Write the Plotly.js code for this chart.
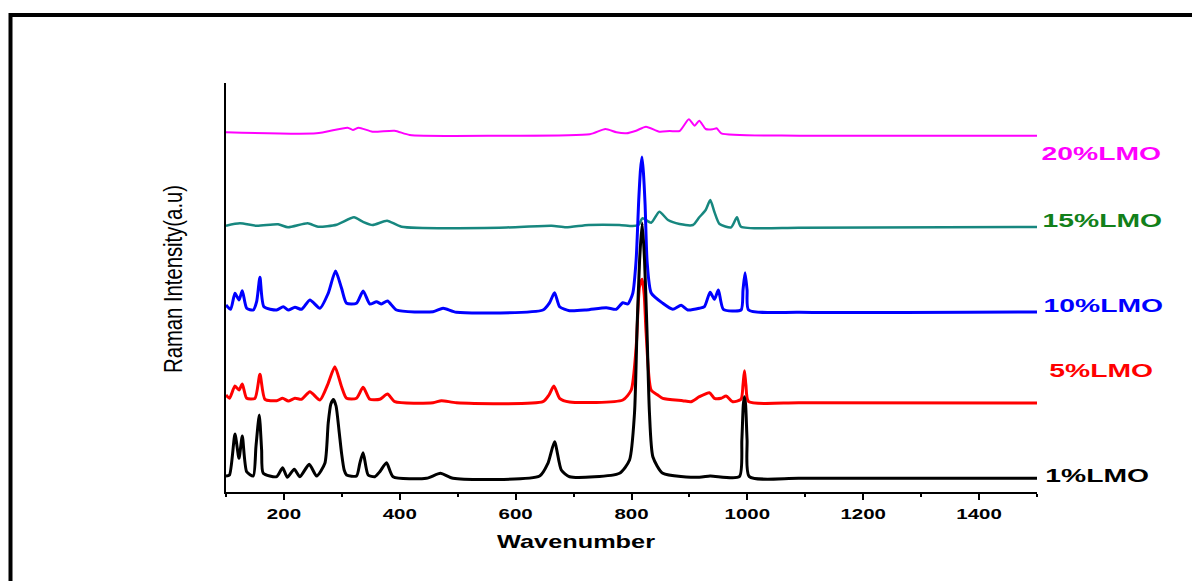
<!DOCTYPE html>
<html><head><meta charset="utf-8">
<script src="https://cdn.plot.ly/plotly-3.0.1.min.js"></script>
<style>html,body{margin:0;padding:0;background:#fff}#chart{width:1192px;height:581px}</style>
</head><body><div id="chart"></div>
<script>
// ---- data (x: wavenumber, y: stacked Raman intensity, a.u.) ----
const seriesNames = ['1%LMO', '5%LMO', '10%LMO', '15%LMO', '20%LMO'];

const wn_1 = [100,106,115.5,122.4,128.1,135.7,147.1,151.7,157.4,161.5,164.3,187.4,197.8,205.7,217.8,227.6,243.6,256.4,270.7,276.4,281,285.5,290,295,299.5,304,308.1,325.3,331,336.7,345.3,356.9,365.5,377.1,388.4,446,470.2,491.9,641.4,655.7,667.2,678.8,693.1,779.3,796.6,805.2,809.5,814,818.4,822.5,826.7,831,837,854,917.2,935.7,986.2,990.5,993,995,997,999.5,1003.4,1090,1500];
const int_1 = [16,17,58,33.7,56,20.3,16,45.3,77,42,18.7,15.3,24.3,14.7,22.7,15.3,27.7,16,28.7,68.7,88,92.5,86,62,38.7,22,17,16,28.7,39.3,17,15.3,20.3,29.3,15.3,13.7,18.7,13.7,16,28.7,50.3,22,15.3,18.7,32,79,162,232,269,232,162,79,35,18.7,14.7,16,15.3,52,87,95.3,87,52,15.3,13.7,13.7];

const wn_5 = [100,106,115.5,122.4,128.1,135.7,150,158.6,167.2,187.4,197.8,207.5,219,230.5,244.8,262.1,276.4,287.9,299.5,308.1,325.3,336.7,348.3,365.5,378.8,391.4,457.4,471.9,497.8,647.1,657.5,666,675.9,693,785,799.5,808.1,813.8,818.4,822,825.3,833.9,845.3,854,888.4,902.9,917.2,934.5,943.1,954.7,963.3,974.7,989.1,992.5,995,997.5,1002.2,1090,1500];
const int_5 = [97,93.7,106,102,108,93.7,93.7,117.7,92.7,91.3,93.7,91,93.7,92.7,100.3,92,108.7,125.3,105.3,93.7,93.7,104.7,92.7,92.7,98,90.3,89.3,91.3,89.3,90.3,97,106,93.7,90,92,102,145.3,205.3,212.7,197,158.7,102,97,93.7,91.3,90.3,95.3,99.3,93.7,93.7,96,90.3,92.7,107,121.3,107,90.3,89.3,89];

const wn_10 = [100,108,115.5,122.4,128.1,135.7,147.1,152.9,158.6,165.5,187.4,198.8,207.5,219,230.5,244.8,262.1,276.4,289.1,299.5,308.1,325.3,336.7,348.3,359.8,368.4,378.8,394.3,457.4,474.7,497.8,647.1,658.6,667.2,675.9,693,722,756.4,773.6,785,793.6,802.2,808,812.5,815.5,818,820.5,823.5,827,834,854,871.2,885.7,897.1,917.2,925.9,935.7,943.1,950,958.6,989.1,992.5,996,999.5,1002.2,1090,1500];
const int_10 = [187,182.7,198.7,192,201.3,183.7,182,190.3,214.7,185.3,182,185.3,182,184.7,182.7,192,183.7,198.7,221,203.7,188.7,188.7,201,188,190.3,188,191,182,180.3,183.7,179.7,182,189.3,199.3,185.3,181.3,182,184.3,182.7,189.3,188,198.7,232,292,322,335,320,287,230,199,188.7,182.7,186.7,182,183.7,185.3,199.7,192.7,202,182.7,182,202,219.3,202,182,179.7,180];

const wn_15 = [100,124,153,190,207,241,259,291,321,336,353,378,403,572,662,687,726,779,802,812,819,834,848,863,883,906,917,928,936,943,952,972,982,989,1090,1500];
const int_15 = [266.3,268.7,266.3,267.7,264.7,268.7,265.3,267.3,274.7,270.3,267,271.3,265.3,264.3,266.3,264.7,267,267,266,267,273.7,269.3,280.3,272,268,267,274.7,282,292,280.3,268,264.7,274.7,265.3,264.3,265];

const wn_20 = [100,256,310,319,329,353,391,417,572,728,755,774,791,808,825,848,866,883,899,909,917,928,940,947,955,1090,1500];
const int_20 = [359.7,358.7,364.3,362,364.3,360.3,361.3,357,356.3,357.7,363,359.7,358.7,361.3,365.3,360.3,361,361,372.7,366.3,371.3,363,362.7,363.7,358.7,356.3,356.3];

const tickVals = [200, 400, 600, 800, 1000, 1200, 1400];
const xTitle = 'Wavenumber';
const yTitle = 'Raman Intensity(a.u)';

// ---- layout helpers (pixel frame of the plot area) ----
const L = 226, R = 1037, T = 83, B = 492;
const px = v => (v - L) / (R - L);
const py = v => (B - v) / (B - T);

const lineColors = {'1%LMO':'#000000','5%LMO':'#ff0000','10%LMO':'#0000ff','15%LMO':'#17877f','20%LMO':'#ff00ff'};
const labelColors = {'1%LMO':'#000000','5%LMO':'#ff0000','10%LMO':'#0000ff','15%LMO':'#12801a','20%LMO':'#ff00ff'};
const lineWidths = {'1%LMO':3,'5%LMO':3,'10%LMO':3,'15%LMO':2.5,'20%LMO':2};

const dataMap = {
  '1%LMO':[wn_1,int_1], '5%LMO':[wn_5,int_5], '10%LMO':[wn_10,int_10],
  '15%LMO':[wn_15,int_15], '20%LMO':[wn_20,int_20]
};
const drawOrder = ['20%LMO','15%LMO','10%LMO','5%LMO','1%LMO'];
const traces = drawOrder.map(n => ({
  x: dataMap[n][0], y: dataMap[n][1], type:'scatter', mode:'lines', name:n,
  line:{color:lineColors[n], width:lineWidths[n], shape:'spline', smoothing:0.6},
  hoverinfo:'skip'
}));

const labelPos = {
  '20%LMO':[1101.5,153], '15%LMO':[1102,220.7], '10%LMO':[1103.5,305],
  '5%LMO':[1101,370], '1%LMO':[1097,475]
};
const lblFont = c => ({family:'Liberation Sans, Arial, sans-serif', size:18.6, color:c, weight:'bold'});
const annotations = seriesNames.map(n => ({
  text:n, xref:'paper', yref:'paper', x:px(labelPos[n][0]), y:py(labelPos[n][1]),
  xanchor:'center', yanchor:'middle', showarrow:false, font:lblFont(labelColors[n])
}));
annotations.push({
  text:xTitle, xref:'paper', yref:'paper', x:px(575.7), y:py(541.7),
  xanchor:'center', yanchor:'middle', showarrow:false,
  font:{family:'Liberation Sans, Arial, sans-serif', size:18.6, color:'#000', weight:'bold'}
});
annotations.push({
  text:yTitle, xref:'paper', yref:'paper', x:px(173), y:py(279), textangle:-90,
  xanchor:'center', yanchor:'middle', showarrow:false,
  font:{family:'Liberation Sans, Arial, sans-serif', size:25, color:'#000'}
});

const layout = {
  width:1192, height:581,
  margin:{l:L, r:1192-R, t:T, b:581-B, pad:0},
  paper_bgcolor:'#ffffff', plot_bgcolor:'#ffffff',
  showlegend:false,
  xaxis:{
    range:[100,1500], showline:true, linewidth:2, linecolor:'#000',
    ticks:'outside', ticklen:6, tickwidth:2, tickcolor:'#000',
    tickvals:tickVals, showgrid:false, zeroline:false,
    tickfont:{family:'Liberation Sans, Arial, sans-serif', size:15.5, color:'#000', weight:'bold'},
    minor:{dtick:100, tick0:0, ticks:'outside', ticklen:3, tickwidth:2, tickcolor:'#000', showgrid:false}
  },
  yaxis:{
    range:[0,409], showline:true, linewidth:2, linecolor:'#000',
    ticks:'', showticklabels:false, showgrid:false, zeroline:false
  },
  annotations:annotations,
  shapes:[{type:'rect', xref:'paper', yref:'paper', x0:px(10.5), y0:py(15), x1:px(1260), y1:py(650),
           line:{color:'#000', width:4}, fillcolor:'rgba(0,0,0,0)', layer:'above'}]
};

Plotly.newPlot('chart', traces, layout, {staticPlot:true, displayModeBar:false}).then(gd => {
  const stretch = (el, target) => {
    el.setAttribute('textLength', target.toFixed(1));
    el.setAttribute('lengthAdjust', 'spacingAndGlyphs');
  };
  gd.querySelectorAll('.xtick text').forEach(t => stretch(t, t.getComputedTextLength() * 1.32));
  gd.querySelectorAll('.annotation-text').forEach(t => {
    const s = t.textContent, w = t.getComputedTextLength();
    if (s === yTitle) stretch(t, 188);
    else if (s === xTitle) stretch(t, w * 1.36);
    else stretch(t, w * 1.52);
  });
});
</script>
</body></html>
